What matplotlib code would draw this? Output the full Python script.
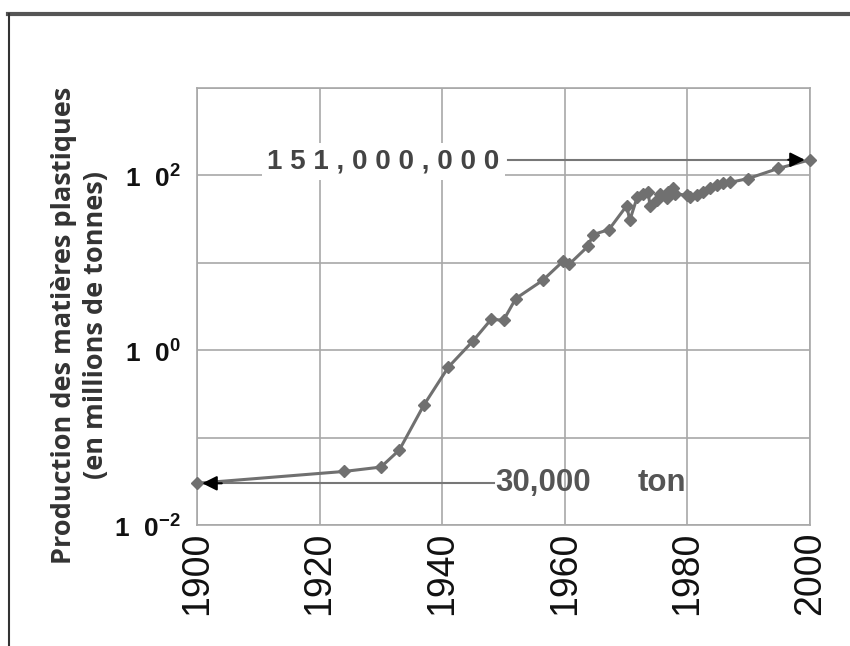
import matplotlib
matplotlib.use("Agg")
import matplotlib.pyplot as plt
from matplotlib.lines import Line2D

plt.rcParams['mathtext.fontset'] = 'custom'
plt.rcParams['mathtext.rm'] = 'Liberation Sans'
plt.rcParams['mathtext.bf'] = 'Liberation Sans:bold'

years = [1900, 1924, 1930, 1933, 1937, 1941, 1945, 1948, 1950, 1952, 1956.4,
         1959.7, 1960.7, 1963.8, 1964.6, 1967.2, 1970.1, 1970.6, 1971.8, 1972.8,
         1973.6, 1973.9, 1975, 1975.5, 1976.7, 1976.9, 1977.6, 1978, 1979.9,
         1980.4, 1981.6, 1982.5, 1983.7, 1984.8, 1985.8, 1986.9, 1989.9, 1994.8,
         2000]
production = [0.03, 0.041, 0.046, 0.072, 0.235, 0.64, 1.27, 2.26, 2.2, 3.9, 6.3,
              10.4, 9.6, 15.5, 21, 24, 45, 30.6, 56, 62,
              64, 45, 52, 62, 55, 64, 71, 62, 59,
              56, 59, 64, 71, 77, 81, 83, 92, 120,
              151]
xticks = [1900, 1920, 1940, 1960, 1980, 2000]
ytick_vals = [1e-2, 1e0, 1e2]
ytick_labels = [r'1  0$^{\mathbf{-2}}$', r'1  0$^{\mathbf{0}}$', r'1  0$^{\mathbf{2}}$']
label_top = "1 5 1 , 0 0 0 , 0 0 0"
label_bottom = "30,000"
label_unit = "ton"
ylabel = "Production des matières plastiques\n(en millions de tonnes)"

fig = plt.figure(figsize=(8.5, 6.46), dpi=100)
ax = fig.add_axes([197/850, 1-525/646, (810-197)/850, (525-88)/646])

grid_c = '#a8a8a8'
data_c = '#707070'

ax.set_yscale('log')
ax.set_xlim(1900, 2000)
ax.set_ylim(1e-2, 1e3)
for d in range(-2, 4):
    ax.axhline(10.0**d, color=grid_c, lw=1.2, zorder=0)
for xt in xticks:
    ax.axvline(xt, color=grid_c, lw=1.2, zorder=0)
for s in ax.spines.values():
    s.set_color(grid_c)
    s.set_linewidth(1.2)

ax.plot(years, production, color=data_c, lw=2.2, marker='D', markersize=6.5,
        markeredgecolor=data_c, markerfacecolor=data_c, zorder=3, clip_on=False)

ax.set_xticks(xticks)
ax.set_xticklabels([str(x) for x in xticks], rotation=90, fontsize=27,
                   family='Liberation Sans', color='#111111')
ax.set_yticks(ytick_vals)
ax.set_yticklabels(ytick_labels, fontsize=19, fontweight='bold',
                   family='Liberation Sans', color='#111111')
ax.yaxis.set_minor_locator(matplotlib.ticker.NullLocator())
ax.tick_params(axis='both', length=0)
ax.tick_params(axis='x', pad=5)
ax.tick_params(axis='y', pad=12)

# annotations
v_end = production[-1]
v_start = production[0]
ax.text(1911.5, 145, label_top, fontsize=20, fontweight='bold',
        family='Liberation Sans', color='#444444', va='center', ha='left',
        bbox=dict(facecolor='white', edgecolor='none', pad=4), zorder=4)
ax.plot([1950.8, 1998], [v_end, v_end], color='#777777', lw=1.5, zorder=2)
ax.annotate('', xy=(1999.6, v_end), xytext=(1996, v_end),
            arrowprops=dict(arrowstyle='-|>', color='black', lw=1.5,
                            mutation_scale=22), zorder=5)

ax.plot([1901, 1948.5], [v_start, v_start], color='#777777', lw=1.5, zorder=2)
ax.text(1948.6, v_start, label_bottom, fontsize=22.5, fontweight='bold',
        family='Liberation Sans', color='#555555', va='center', ha='left', zorder=4)
ax.text(1971.9, v_start, label_unit, fontsize=22.5, fontweight='bold',
        family='Liberation Sans', color='#555555', va='center', ha='left', zorder=4)
ax.annotate('', xy=(1900.4, v_start), xytext=(1904.5, v_start),
            arrowprops=dict(arrowstyle='-|>', color='black', lw=1.5,
                            mutation_scale=22), zorder=5)

fig.text(80/850, 1-325/646, ylabel, rotation=90, ha='center', va='center',
         fontsize=19.5, fontweight='bold', family='Open Sans', color='#333333',
         linespacing=1.25)

# outer frame lines
fig.add_artist(Line2D([8/850, 1.0], [1-14/646, 1-14/646], color='#555555', lw=3,
                      transform=fig.transFigure))
fig.add_artist(Line2D([9/850, 9/850], [0, 1-14/646], color='#333333', lw=1.5,
                      transform=fig.transFigure))

fig.savefig('out.png', dpi=100)
